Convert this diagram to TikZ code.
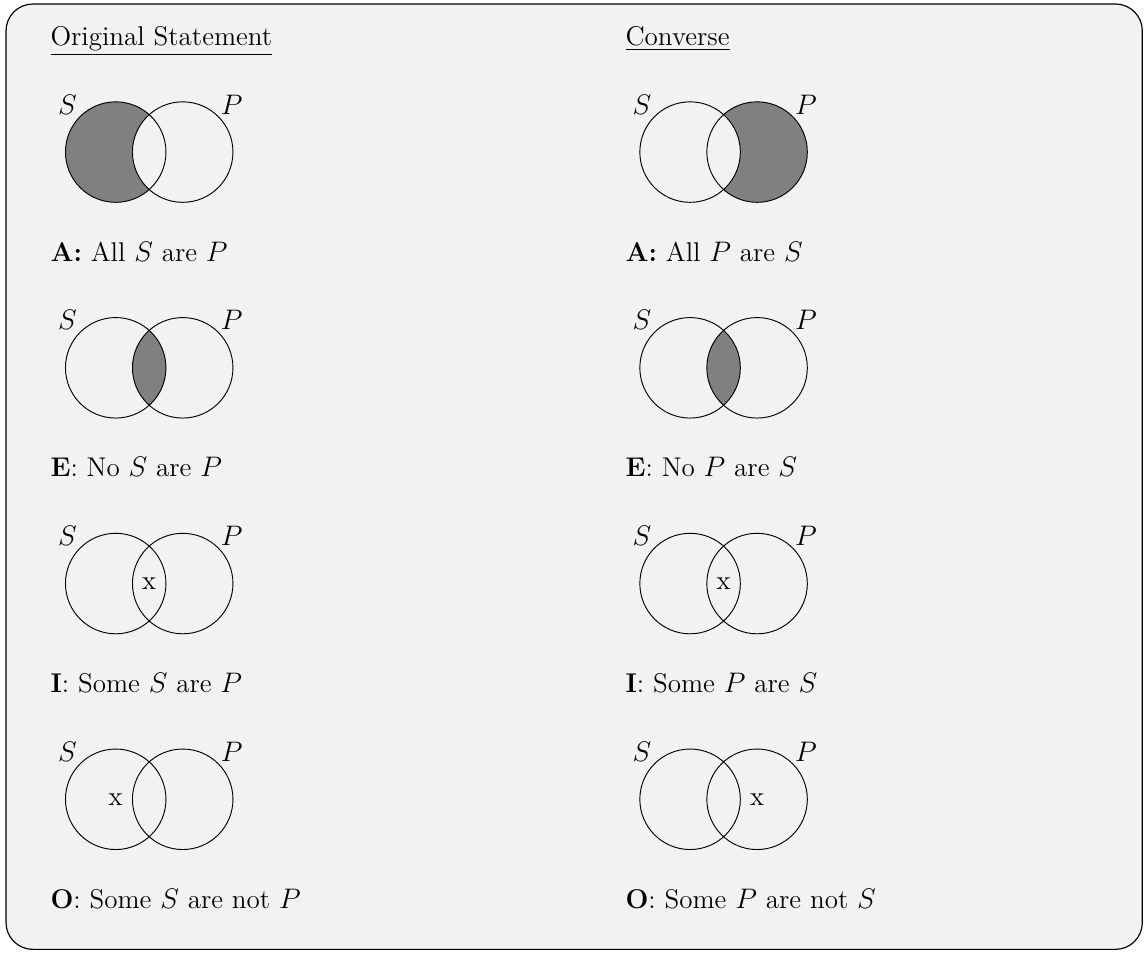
\documentclass[tikz,border=0pt]{standalone}
\usepackage{amsmath}
\usepackage{amssymb}
\usepackage{tikz}

\definecolor{boxbg}{gray}{0.949}
\tikzset{
    heading/.style={anchor=base west, inner sep=0pt},
    caption/.style={anchor=base west, inner sep=0pt},
    shaded/.style={fill=gray},
    blank/.style={fill=boxbg},
    venn/.style={draw=black, line width=0.4pt}
}

\begin{document}
\begin{tikzpicture}[font=\fontsize{11.5}{13.8}\selectfont]
        \useasboundingbox (0,0) rectangle (17.09,-14.21);
        % Frame
        \draw[fill=boxbg, line width=0.5pt, rounded corners=0.4cm] (0.09,-0.06) rectangle (17.05,-14.17);

        % Original Statement
        \begin{scope}[xshift=1.727cm]
            \node[heading] (orig) at (-0.98,-0.672) {\underline{Original Statement}};

            % A
            \begin{scope}[yshift=-2.27cm]
                \fill[shaded] (0,0) circle (0.75);
                \fill[blank] (1,0) circle (0.75);
                \draw[venn] (0,0) circle (0.75) (1,0) circle (0.75);
                \node (sA) at (-0.72,0.71) {$S$};
                \node (pA) at (1.73,0.71) {$P$};
                \node[caption] (capA) at (-0.98,-1.627) {\textbf{A:} All $S$ are $P$};
            \end{scope}

            % E
            \begin{scope}[yshift=-5.49cm]
                \begin{scope}
                    \clip (0,0) circle (0.75);
                    \fill[shaded] (1,0) circle (0.75);
                \end{scope}
                \draw[venn] (0,0) circle (0.75) (1,0) circle (0.75);
                \node (sE) at (-0.72,0.71) {$S$};
                \node (pE) at (1.73,0.71) {$P$};
                \node[caption] (capE) at (-0.98,-1.627) {\textbf{E}: No $S$ are $P$};
            \end{scope}

            % I
            \begin{scope}[yshift=-8.71cm]
                \draw[venn] (0,0) circle (0.75) (1,0) circle (0.75);
                \node (sI) at (-0.72,0.71) {$S$};
                \node (pI) at (1.73,0.71) {$P$};
                \node (xI) at (0.5,0) {x};
                \node[caption] (capI) at (-0.98,-1.627) {\textbf{I}: Some $S$ are $P$};
            \end{scope}

            % O
            \begin{scope}[yshift=-11.93cm]
                \draw[venn] (0,0) circle (0.75) (1,0) circle (0.75);
                \node (sO) at (-0.72,0.71) {$S$};
                \node (pO) at (1.73,0.71) {$P$};
                \node (xO) at (0,0) {x};
                \node[caption] (capO) at (-0.98,-1.627) {\textbf{O}: Some $S$ are not $P$};
            \end{scope}
        \end{scope}

        % Converse
        \begin{scope}[xshift=10.3cm]
            \node[heading] (conv) at (-0.97,-0.672) {\underline{Converse}};

            % A
            \begin{scope}[yshift=-2.27cm]
                \fill[shaded] (1,0) circle (0.75);
                \fill[blank] (0,0) circle (0.75);
                \draw[venn] (0,0) circle (0.75) (1,0) circle (0.75);
                \node (sA') at (-0.72,0.71) {$S$};
                \node (pA') at (1.73,0.71) {$P$};
                \node[caption] (capA') at (-0.97,-1.627) {\textbf{A:} All $P$ are $S$};
            \end{scope}

            % E
            \begin{scope}[yshift=-5.49cm]
                \begin{scope}
                    \clip (0,0) circle (0.75);
                    \fill[shaded] (1,0) circle (0.75);
                \end{scope}
                \draw[venn] (0,0) circle (0.75) (1,0) circle (0.75);
                \node (sE') at (-0.72,0.71) {$S$};
                \node (pE') at (1.73,0.71) {$P$};
                \node[caption] (capE') at (-0.97,-1.627) {\textbf{E}: No $P$ are $S$};
            \end{scope}

            % I
            \begin{scope}[yshift=-8.71cm]
                \draw[venn] (0,0) circle (0.75) (1,0) circle (0.75);
                \node (sI') at (-0.72,0.71) {$S$};
                \node (pI') at (1.73,0.71) {$P$};
                \node (xI') at (0.5,0) {x};
                \node[caption] (capI') at (-0.97,-1.627) {\textbf{I}: Some $P$ are $S$};
            \end{scope}

            % O
            \begin{scope}[yshift=-11.93cm]
                \draw[venn] (0,0) circle (0.75) (1,0) circle (0.75);
                \node (sO') at (-0.72,0.71) {$S$};
                \node (pO') at (1.73,0.71) {$P$};
                \node (xO') at (1,0) {x};
                \node[caption] (capO') at (-0.97,-1.627) {\textbf{O}: Some $P$ are not $S$};
            \end{scope}
        \end{scope}
    \end{tikzpicture}
\end{document}
